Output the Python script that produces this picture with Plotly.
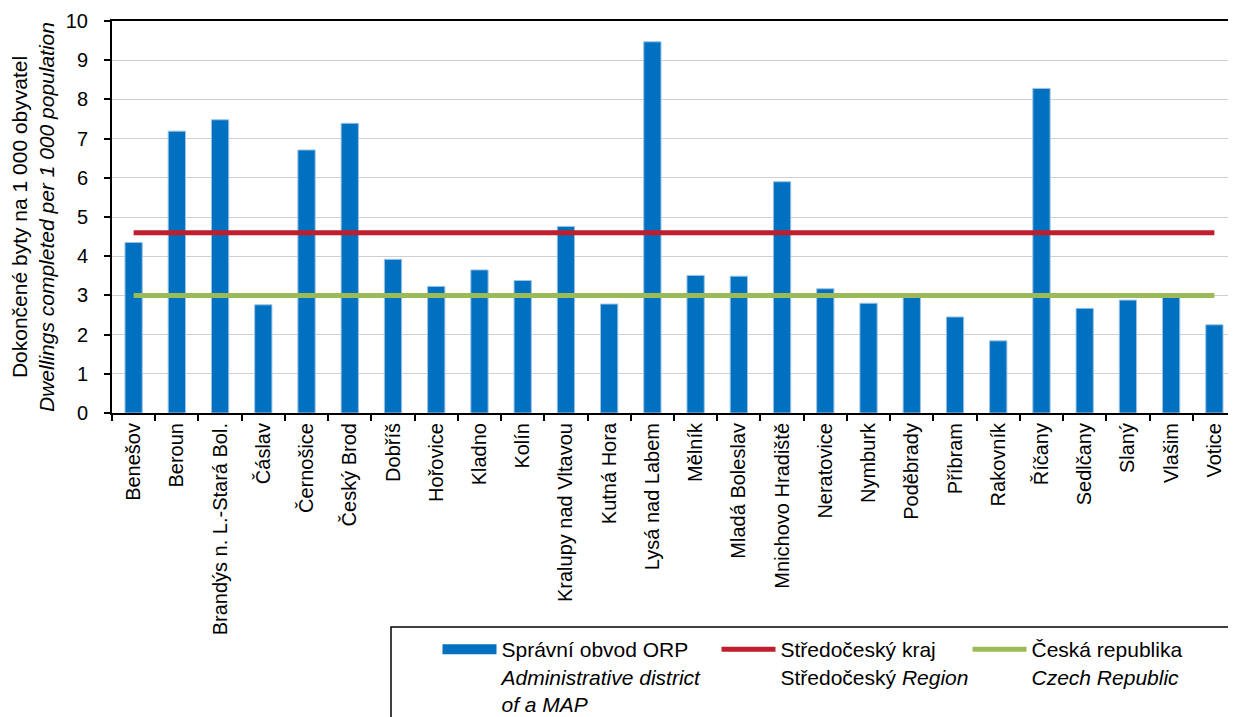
import plotly.graph_objects as go

categories = [
    "Benešov", "Beroun", "Brandýs n. L.-Stará Bol.", "Čáslav", "Černošice",
    "Český Brod", "Dobříš", "Hořovice", "Kladno", "Kolín",
    "Kralupy nad Vltavou", "Kutná Hora", "Lysá nad Labem", "Mělník",
    "Mladá Boleslav", "Mnichovo Hradiště", "Neratovice", "Nymburk",
    "Poděbrady", "Příbram", "Rakovník", "Říčany", "Sedlčany", "Slaný",
    "Vlašim", "Votice",
]
orp_values = [
    4.35, 7.19, 7.48, 2.76, 6.71,
    7.39, 3.92, 3.23, 3.65, 3.38,
    4.76, 2.78, 9.47, 3.51,
    3.49, 5.90, 3.17, 2.80,
    2.98, 2.45, 1.84, 8.28, 2.67, 2.88,
    2.97, 2.25,
]
region_value = 4.6
czech_value = 3.0

region_series = [region_value for _ in categories]
czech_series = [czech_value for _ in categories]

y_ticks = list(range(0, 11))

name_orp = "Správní obvod ORP<br><i>Administrative district</i><br><i>of a MAP</i>"
name_region = "Středočeský kraj<br>Středočeský <i>Region</i>"
name_czech = "Česká republika<br><i>Czech Republic</i>"
y_title = "Dokončené byty na 1 000 obyvatel<br><i>Dwellings completed per 1 000 population</i>"

BLUE = "#0070C0"
RED = "#BE1E2D"
GREEN = "#9BBB59"
FONT = "Liberation Sans, Arial, sans-serif"

fig = go.Figure()

fig.add_trace(go.Bar(
    x=categories, y=orp_values, width=0.4,
    marker=dict(color=BLUE, line=dict(color="#9DC3E6", width=1)),
    showlegend=False, name="Správní obvod ORP",
))
# legend proxy for the bar series (wide rectangular swatch)
fig.add_trace(go.Scatter(
    x=[None], y=[None], mode="lines",
    line=dict(color=BLUE, width=10),
    name=name_orp, legendwidth=210,
))
fig.add_trace(go.Scatter(
    x=categories, y=region_series, mode="lines",
    line=dict(color=RED, width=5),
    name=name_region, legendwidth=182,
))
fig.add_trace(go.Scatter(
    x=categories, y=czech_series, mode="lines",
    line=dict(color=GREEN, width=5),
    name=name_czech, legendwidth=150,
))

# page has an 8px body margin: figure is placed at (8, 8)
OFF = 8
W, H = 1236 - OFF, 717 - OFF
L = 112 - OFF          # plot left at page x=112
T = 21 - OFF           # plot top at page y=21
R = 0                  # plot right at page x=1236
B = H - (413 - OFF)    # plot bottom at page y=413
pw = W - L - R
ph = H - T - B

def px_x(page_x):
    return (page_x - OFF - L) / pw

def px_y(page_y):
    return (T + ph - (page_y - OFF)) / ph

fig.update_layout(
    width=W, height=H, autosize=False,
    margin=dict(l=L, r=R, t=T, b=B, pad=0, autoexpand=False),
    paper_bgcolor="white", plot_bgcolor="white",
    font=dict(family=FONT, size=20, color="black"),
    bargap=0.6,
    legend=dict(
        orientation="h",
        x=px_x(437.5), xanchor="left",
        y=px_y(629), yanchor="top",
        valign="top",
        itemwidth=54,
        font=dict(family=FONT, size=21, color="black"),
        bgcolor="rgba(0,0,0,0)",
        borderwidth=0,
        traceorder="normal",
    ),
    shapes=[dict(
        type="rect", xref="paper", yref="paper",
        x0=px_x(391), x1=1.05, y0=px_y(740), y1=px_y(627),
        line=dict(color="black", width=1.5), fillcolor="rgba(0,0,0,0)",
        layer="above",
    )],
)

fig.update_xaxes(
    type="category", automargin=False,
    categoryorder="array", categoryarray=categories,
    tickangle=-90,
    tickfont=dict(family=FONT, size=20, color="black"),
    ticks="outside", ticklen=6, tickwidth=1.5, tickcolor="black",
    tickson="boundaries",
    showline=True, linecolor="black", linewidth=2, mirror=True,
    showgrid=False,
)
fig.update_yaxes(
    range=[0, 10], tickvals=y_ticks, automargin=False,
    tickfont=dict(family=FONT, size=20, color="black"),
    ticks="outside", ticklen=6, tickwidth=1.5, tickcolor="black",
    ticklabelstandoff=12,
    showline=True, linecolor="black", linewidth=2,
    showgrid=True, gridcolor="#D0D0D0", gridwidth=1,
    zeroline=False,
    title=dict(text=y_title, font=dict(family=FONT, size=21, color="black"), standoff=12),
)

fig.write_html("out.html")
